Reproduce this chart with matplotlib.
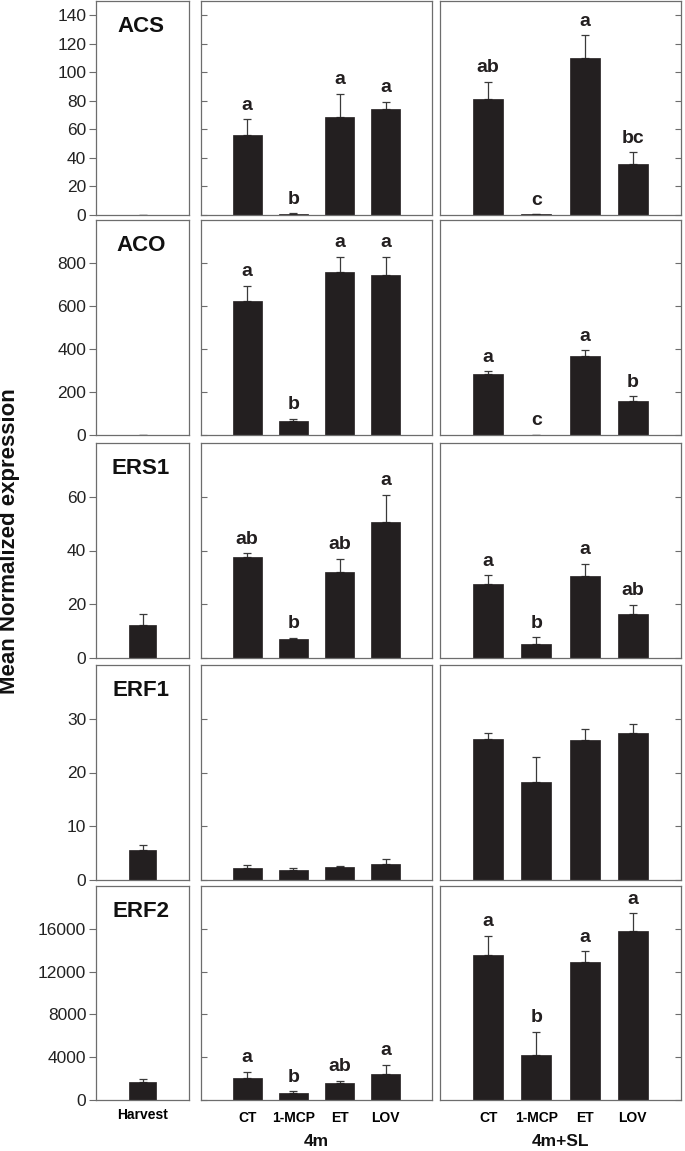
import matplotlib
matplotlib.use('Agg')
import matplotlib.pyplot as plt
import numpy as np

plt.rcParams['font.family'] = ['Liberation Sans', 'DejaVu Sans']

genes = ['ACS', 'ACO', 'ERS1', 'ERF1', 'ERF2']
treatments = ['CT', '1-MCP', 'ET', 'LOV']
groups = ['4m', '4m+SL']

# harvest (single bar per gene)
harvest_mean = [0.3, 0.5, 12.2, 5.6, 1660]
harvest_err = [0.0, 0.0, 4.0, 0.9, 310]

# 4 months storage
m4_mean = {
    'ACS':  [56.4, 1.0, 68.6, 74.5],
    'ACO':  [625, 65, 758, 742],
    'ERS1': [37.5, 7.1, 31.9, 50.6],
    'ERF1': [2.25, 1.95, 2.5, 2.9],
    'ERF2': [2035, 690, 1600, 2440],
}
m4_err = {
    'ACS':  [10.8, 0.2, 16.4, 4.9],
    'ACO':  [69, 11, 71, 88],
    'ERS1': [1.5, 0.5, 5.0, 10.1],
    'ERF1': [0.5, 0.35, 0.1, 1.1],
    'ERF2': [625, 125, 185, 850],
}
m4_letters = {
    'ACS':  ['a', 'b', 'a', 'a'],
    'ACO':  ['a', 'b', 'a', 'a'],
    'ERS1': ['ab', 'b', 'ab', 'a'],
    'ERF1': None,
    'ERF2': ['a', 'b', 'ab', 'a'],
}

# 4 months + shelf life
sl_mean = {
    'ACS':  [81, 0.5, 110, 36],
    'ACO':  [286, 2, 367, 156],
    'ERS1': [27.5, 5.25, 30.4, 16.5],
    'ERF1': [26.3, 18.3, 26.0, 27.4],
    'ERF2': [13590, 4230, 12870, 15810],
}
sl_err = {
    'ACS':  [12.5, 0.1, 16, 8],
    'ACO':  [11, 0, 27, 25],
    'ERS1': [3.25, 2.5, 4.6, 3.4],
    'ERF1': [1.0, 4.6, 2.1, 1.7],
    'ERF2': [1750, 2130, 1030, 1660],
}
sl_letters = {
    'ACS':  ['ab', 'c', 'a', 'bc'],
    'ACO':  ['a', 'c', 'a', 'b'],
    'ERS1': ['a', 'b', 'a', 'ab'],
    'ERF1': None,
    'ERF2': ['a', 'b', 'a', 'a'],
}

y_ticks = {
    'ACS':  [0, 20, 40, 60, 80, 100, 120, 140],
    'ACO':  [0, 200, 400, 600, 800],
    'ERS1': [0, 20, 40, 60],
    'ERF1': [0, 10, 20, 30],
    'ERF2': [0, 4000, 8000, 12000, 16000],
}
y_max = {'ACS': 150, 'ACO': 1000, 'ERS1': 80, 'ERF1': 40, 'ERF2': 20000}

W, H = 685, 1151
fig = plt.figure(figsize=(W / 100, H / 100), dpi=100)

rows_px = [(1, 215), (220, 435), (443, 658), (665, 880), (886, 1100)]
cols_px = [(96, 189), (201, 432), (440, 681)]

BAR = '#231f20'
EDGE = '#6d6d6d'


def add_ax(c, r):
    x0, x1 = cols_px[c]
    t, b = rows_px[r]
    return fig.add_axes([x0 / W, 1 - b / H, (x1 - x0) / W, (b - t) / H])


def style(ax):
    for s in ax.spines.values():
        s.set_color(EDGE)
        s.set_linewidth(0.9)


def draw_bars(ax, xs, means, errs, letters, width):
    ax.bar(xs, means, width=width, color=BAR, edgecolor=BAR, linewidth=0.5, zorder=2)
    ax.errorbar(xs, means, yerr=[np.zeros(len(errs)), errs], fmt='none',
                ecolor='#3a3a3a', elinewidth=0.9, capsize=3, capthick=0.9, zorder=1)
    if letters:
        for x, m, e, lab in zip(xs, means, errs, letters):
            ax.annotate(lab, (x, m + e), xytext=(0, 4), textcoords='offset points',
                        ha='center', va='bottom', fontsize=14, fontweight='bold',
                        color='#231f20')


for r, g in enumerate(genes):
    ymax = y_max[g]

    # harvest panel
    ax = add_ax(0, r)
    style(ax)
    draw_bars(ax, [0], [harvest_mean[r]], [harvest_err[r]], None, 0.6)
    ax.set_xlim(-1, 1)
    ax.set_ylim(0, ymax)
    ax.set_yticks(y_ticks[g])
    ax.tick_params(axis='y', direction='out', length=5, color=EDGE,
                   labelsize=12.5, labelcolor='#222222', pad=2)
    ax.set_xticks([0] if r == 4 else [])
    if r == 4:
        ax.set_xticklabels(['Harvest'], fontsize=10, fontweight='bold')
        ax.tick_params(axis='x', length=0, pad=6)
    ax.text(0.48, 0.88, g, transform=ax.transAxes, ha='center', va='center',
            fontsize=16, fontweight='bold', color='#111111')

    # 4m panel and 4m+SL panel
    for c, (means, errs, lets) in enumerate([(m4_mean, m4_err, m4_letters),
                                              (sl_mean, sl_err, sl_letters)], start=1):
        ax = add_ax(c, r)
        style(ax)
        xs = np.arange(1, 5)
        draw_bars(ax, xs, means[g], errs[g], lets[g], 0.62)
        ax.set_xlim(0, 5)
        ax.set_ylim(0, ymax)
        ax.set_yticks(y_ticks[g])
        ax.set_yticklabels([])
        if c == 2:
            ax.yaxis.tick_right()
        ax.tick_params(axis='y', direction='in', length=4, color=EDGE)
        if r == 4:
            ax.set_xticks(xs)
            ax.set_xticklabels(treatments, fontsize=10, fontweight='bold')
            ax.tick_params(axis='x', length=0, pad=8)
        else:
            ax.set_xticks([])

for c, lab in zip([1, 2], groups):
    x0, x1 = cols_px[c]
    fig.text((x0 + x1) / 2 / W, 1 - 1141 / H, lab, ha='center', va='center',
             fontsize=12.5, fontweight='bold', color='#111111')

fig.text(10 / W, 1 - 541 / H, 'Mean Normalized expression', rotation=90,
         ha='center', va='center', fontsize=16, fontweight='bold', color='#111111')

fig.savefig('out.png', dpi=100)
